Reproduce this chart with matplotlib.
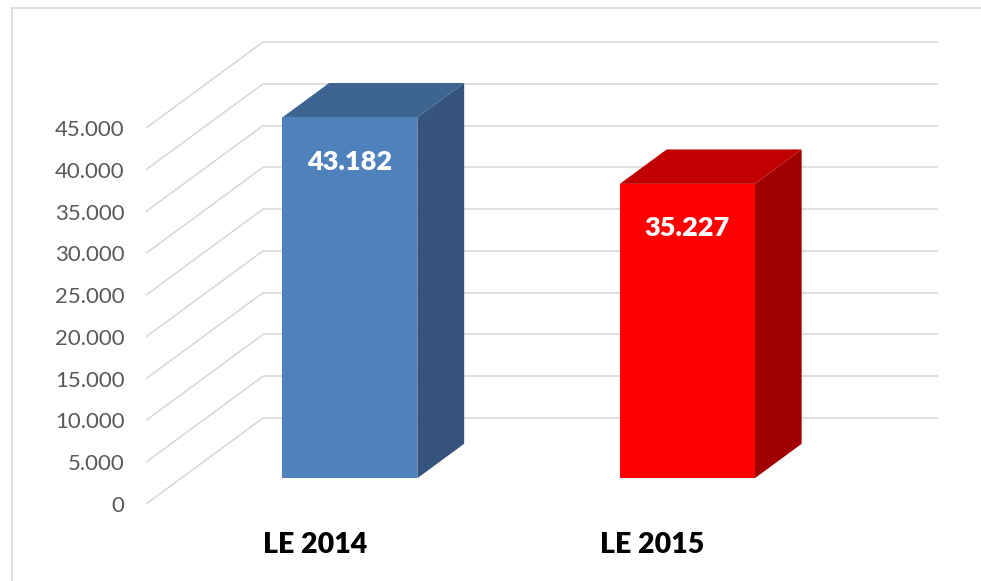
import matplotlib.pyplot as plt
from matplotlib.patches import Polygon
from matplotlib.lines import Line2D

# data
categories = ['LE 2014', 'LE 2015']
values = [43182, 35227]
value_labels = ['43.182', '35.227']
yticks = [0, 5000, 10000, 15000, 20000, 25000, 30000, 35000, 40000, 45000]
ytick_labels = ['0', '5.000', '10.000', '15.000', '20.000', '25.000',
                '30.000', '35.000', '40.000', '45.000']

front_colors = ['#4F81BD', '#FF0000']
top_colors = ['#3E6592', '#C00000']
side_colors = ['#34547E', '#A00000']

plt.rcParams['font.family'] = ['Lato', 'DejaVu Sans']

W, H = 981, 581
fig = plt.figure(figsize=(W / 100, H / 100), dpi=100)

# oblique depth of the 3d box, in data units
DX = 0.3467
DY = 10290
ymax = 56000
px_per_unit = 376 / 45000

ax = fig.add_axes([146 / W, (H - 504) / H, (938 - 146) / W, ymax * px_per_unit / H])
ax.set_xlim(0, len(categories) + DX)
ax.set_ylim(0, ymax)
for s in ax.spines.values():
    s.set_visible(False)

grid_c = '#D9D9D9'
for v in yticks:
    ax.plot([0, DX], [v, v + DY], color=grid_c, lw=1.2, zorder=1, solid_capstyle='butt')
    ax.plot([DX, len(categories) + DX], [v + DY, v + DY], color=grid_c, lw=1.2, zorder=1,
            solid_capstyle='butt')

# 3d bars
d0, d1 = 0.3, 0.7
half = 0.2
for i, v in enumerate(values):
    c = i + 0.5
    xl, xr = c - half, c + half
    front = [(xl + d0 * DX, d0 * DY), (xr + d0 * DX, d0 * DY),
             (xr + d0 * DX, d0 * DY + v), (xl + d0 * DX, d0 * DY + v)]
    side = [(xr + d0 * DX, d0 * DY), (xr + d1 * DX, d1 * DY),
            (xr + d1 * DX, d1 * DY + v), (xr + d0 * DX, d0 * DY + v)]
    top = [(xl + d0 * DX, d0 * DY + v), (xr + d0 * DX, d0 * DY + v),
           (xr + d1 * DX, d1 * DY + v), (xl + d1 * DX, d1 * DY + v)]
    ax.add_patch(Polygon(side, closed=True, facecolor=side_colors[i], edgecolor='none', zorder=3))
    ax.add_patch(Polygon(top, closed=True, facecolor=top_colors[i], edgecolor='none', zorder=3))
    ax.add_patch(Polygon(front, closed=True, facecolor=front_colors[i], edgecolor='none', zorder=4))
    ax.annotate(value_labels[i], (c + d0 * DX, d0 * DY + v), xytext=(0, -32),
                textcoords='offset points', ha='center', va='center',
                color='white', fontsize=19.5, fontweight='heavy', zorder=5)

ax.set_yticks(yticks)
ax.set_yticklabels(ytick_labels, color='#595959', fontsize=16)
ax.set_xticks([i + 0.5 for i in range(len(categories))])
ax.set_xticklabels(categories, fontsize=20.5, fontweight='heavy', color='black')
ax.tick_params(axis='y', length=0, pad=15.5)
ax.tick_params(axis='x', length=0, pad=20)

# chart area border (only left and top visible)
fig.add_artist(Line2D([11.5 / W, 11.5 / W], [0, 1 - 7.5 / H], color='#D9D9D9', lw=1.2))
fig.add_artist(Line2D([11.5 / W, 1], [1 - 7.5 / H, 1 - 7.5 / H], color='#D9D9D9', lw=1.2))

fig.savefig('out.png', dpi=100)
